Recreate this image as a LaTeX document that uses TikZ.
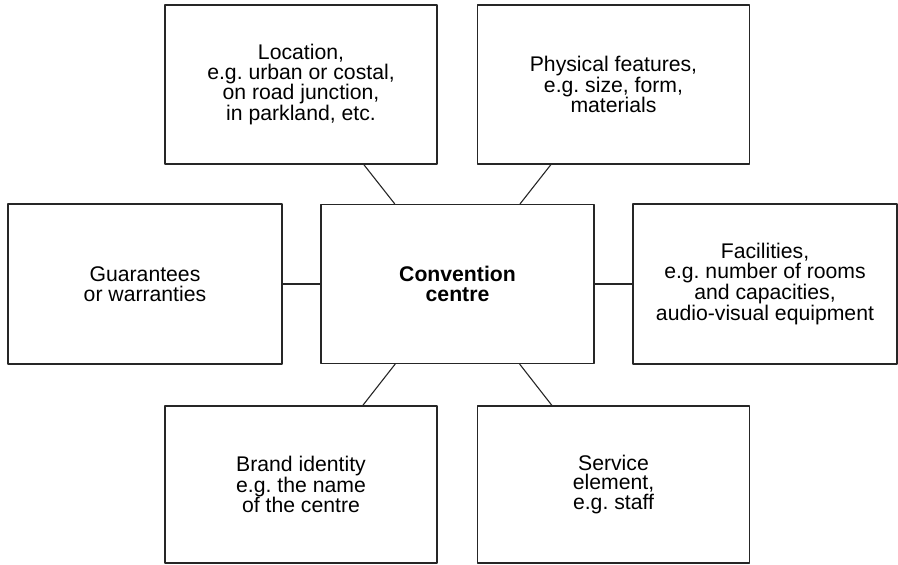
\documentclass[tikz,border=0pt]{standalone}
\usepackage{fontspec}
\setmainfont{Liberation Sans}
\frenchspacing
\begin{document}
\begin{tikzpicture}[x=1pt, y=-1pt, line join=round, line cap=round,
		font=\fontsize{21.2}{19.6}\selectfont,
		box/.style={draw=black!85, line width=1.2pt, align=center, inner sep=0pt, minimum width=272pt, minimum height=159pt},
		link/.style={draw=black!85, line width=1.1pt}]
	\useasboundingbox (0,0) rectangle (898,565);
	\path (301,84.5) coordinate (L) (613.5,84.5) coordinate (P) (145,284) coordinate (G)
		(457.5,284) coordinate (C) (765,284) coordinate (F) (301,484.5) coordinate (B) (613.5,484.5) coordinate (S);
	\node[box, minimum width=273pt] (cen) at (C) {\bfseries Convention\\ \bfseries centre};
	\node[box] (loc) at (L) {Location,\\ e.g. urban or costal,\\ on road junction,\\ in parkland, etc.};
	\node[box] (phys) at (P) {Physical features,\\ e.g. size, form,\\ materials};
	\node[box, minimum width=274pt, minimum height=160pt] (guar) at (G) {Guarantees\\ or warranties};
	\node[box, minimum width=264pt, minimum height=160pt] (fac) at (F) {Facilities,\\ e.g. number of rooms\\ and capacities,\\ audio-visual equipment};
	\node[box, minimum height=157pt] (brand) at (B) {Brand identity\\ e.g. the name\\ of the centre};
	\node[box, minimum height=157pt] (serv) at (S) {Service\\ element,\\ e.g. staff};
	\foreach \n in {loc, phys, guar, fac, brand, serv} \draw[link] (\n) -- (cen);
\end{tikzpicture}
\end{document}
